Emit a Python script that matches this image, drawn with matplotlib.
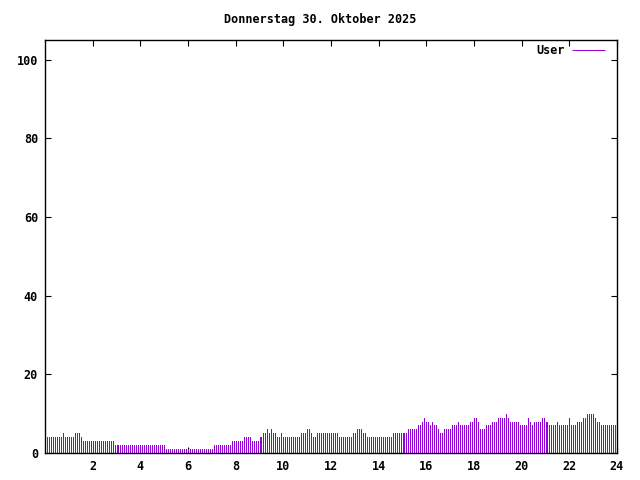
import matplotlib
matplotlib.use("Agg")
import matplotlib.pyplot as plt
import numpy as np

user_runs = [
    (4, 8), (5, 1), (4, 5), (5, 3), (4, 1), (3, 16), (2, 26), (1, 24),
    (2, 9), (3, 6), (4, 4), (3, 4), (4, 2), (5, 2), (6, 1), (5, 1), (6, 1),
    (5, 2), (4, 2), (5, 1), (4, 9), (5, 3), (6, 2), (5, 1), (4, 2), (5, 11),
    (4, 7), (5, 2), (6, 3), (5, 2), (4, 13), (5, 8), (6, 5), (7, 2), (8, 1),
    (9, 1), (8, 2), (7, 1), (8, 1), (7, 2), (6, 1), (5, 2), (6, 4), (7, 3),
    (8, 1), (7, 5), (8, 2), (9, 2), (8, 1), (6, 3), (7, 3), (8, 3), (9, 4),
    (10, 1), (9, 1), (8, 5), (7, 3), (7, 1), (9, 1), (8, 1), (7, 1), (8, 4),
    (9, 2), (8, 2), (7, 4), (8, 1), (7, 5), (9, 1), (7, 3), (8, 3), (9, 2),
    (10, 4), (9, 1), (8, 2), (7, 8),
]
users = [v for v, n in user_runs for _ in range(n)]
hours = (np.arange(len(users)) + 1) * 5 / 60.0

title = "Donnerstag 30. Oktober 2025"
xticks = [2, 4, 6, 8, 10, 12, 14, 16, 18, 20, 22, 24]
yticks = [0, 20, 40, 60, 80, 100]

plt.rcParams['font.family'] = 'DejaVu Sans Mono'
plt.rcParams['font.size'] = 8.5
plt.rcParams['font.weight'] = 'bold'

fig = plt.figure(figsize=(6.4, 4.8), dpi=100)
ax = fig.add_axes([45 / 640, 27 / 480, 572 / 640, 413 / 480])

ax.vlines(hours, 0, users, colors='#9400d3', linewidth=0.72,
          antialiased=False, label='User')

ax.set_xlim(0, 24)
ax.set_ylim(0, 105)
ax.set_xticks(xticks)
ax.set_yticks(yticks)
ax.tick_params(direction='in', length=4, width=0.8, top=True, right=True,
               labelsize=8.5, pad=5)
for sp in ax.spines.values():
    sp.set_linewidth(1.0)

fig.text(0.5, 1 - 20 / 480, title, ha='center', va='center',
         fontsize=8.5, fontweight='bold')

leg = ax.legend(loc='upper right', bbox_to_anchor=(1 - 4 / 572, 1 + 4 / 413),
                frameon=False, markerfirst=False, handlelength=2.8,
                handletextpad=0.6, borderaxespad=0.3, fontsize=8.5)

fig.savefig('out.png', dpi=100)
